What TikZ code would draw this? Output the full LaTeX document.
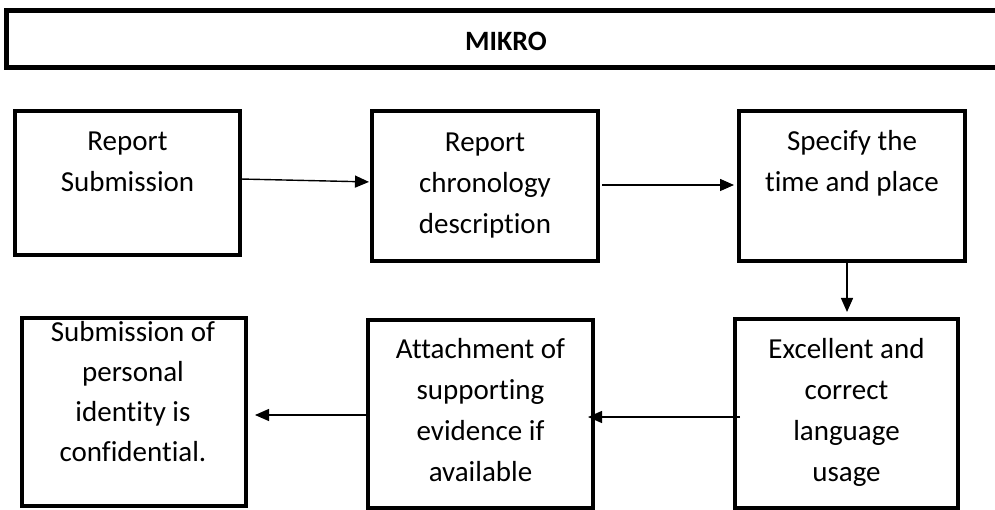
\documentclass[tikz,border=0pt]{standalone}
\usepackage{fontspec}
\setmainfont[Ligatures=NoCommon]{Carlito}
\usetikzlibrary{arrows.meta}
\tikzset{
  box/.style={draw=black, line width=4pt, rectangle, inner sep=0pt, outer sep=0pt},
  txt/.style={align=center, inner sep=0pt, outer sep=0pt, anchor=north, font=\fontsize{29}{41}\selectfont},
  conn/.style={line width=1.4pt, -{Triangle[length=14pt,width=12pt]}},
}
\begin{document}
\begin{tikzpicture}[x=1pt,y=-1pt]
\useasboundingbox (0,0) rectangle (995,510);
% title bar
\node[box, line width=5pt, minimum width=1004pt, minimum height=57.5pt] (top) at (508,39.25) {};
\node[font=\fontsize{28}{34}\selectfont\bfseries, inner sep=0pt, anchor=base] (title) at (506,51) {MIKRO};
% boxes
\node[box, minimum width=225pt, minimum height=144pt] (b1) at (127.5,183) {};
\node[box, minimum width=226pt, minimum height=150pt] (b2) at (485,186) {};
\node[box, minimum width=226pt, minimum height=150pt] (b3) at (852,186) {};
\node[box, minimum width=223pt, minimum height=189pt] (b4) at (846.5,413.5) {};
\node[box, minimum width=225pt, minimum height=188pt] (b5) at (480.5,414) {};
\node[box, minimum width=224pt, minimum height=188pt] (b6) at (134,412) {};
% texts (first baseline = top + 28.7)
\node[txt] (t1) at (127.5,122.3) {\strut Report\\Submission};
\node[txt] (t2) at (485,123.3) {\strut Report\\chronology\\description};
\node[txt] (t3) at (852,122.3) {\strut Specify the\\time and place};
\node[txt] (t4) at (846.5,329.3) {\strut Excellent and\\correct\\language\\usage};
\node[txt] (t5) at (480.5,329.3) {\strut Attachment of\\supporting\\evidence if\\available};
\node[txt, font=\fontsize{29}{40}\selectfont] (t6) at (133,313) {\strut Submission of\\personal\\identity is\\confidential.};
% connectors
\draw[conn, shorten <=2pt, shorten >=3pt] ([yshift=4pt]b1.east) -- ([yshift=4pt]b2.west);
\draw[conn, shorten <=4pt, shorten >=5pt] ([yshift=1pt]b2.east) -- ([yshift=1pt]b3.west);
\draw[conn, shorten >=7pt] ([xshift=-5pt]b3.south) -- ([xshift=0.5pt]b4.north);
\draw[conn, shorten <=-5pt, shorten >=-5pt] ([yshift=-3.5pt]b4.west) -- ([yshift=-3pt]b5.east);
\draw[conn, shorten <=-1pt, shorten >=9pt] ([yshift=-1pt]b5.west) -- ([yshift=-3pt]b6.east);
\end{tikzpicture}
\end{document}
